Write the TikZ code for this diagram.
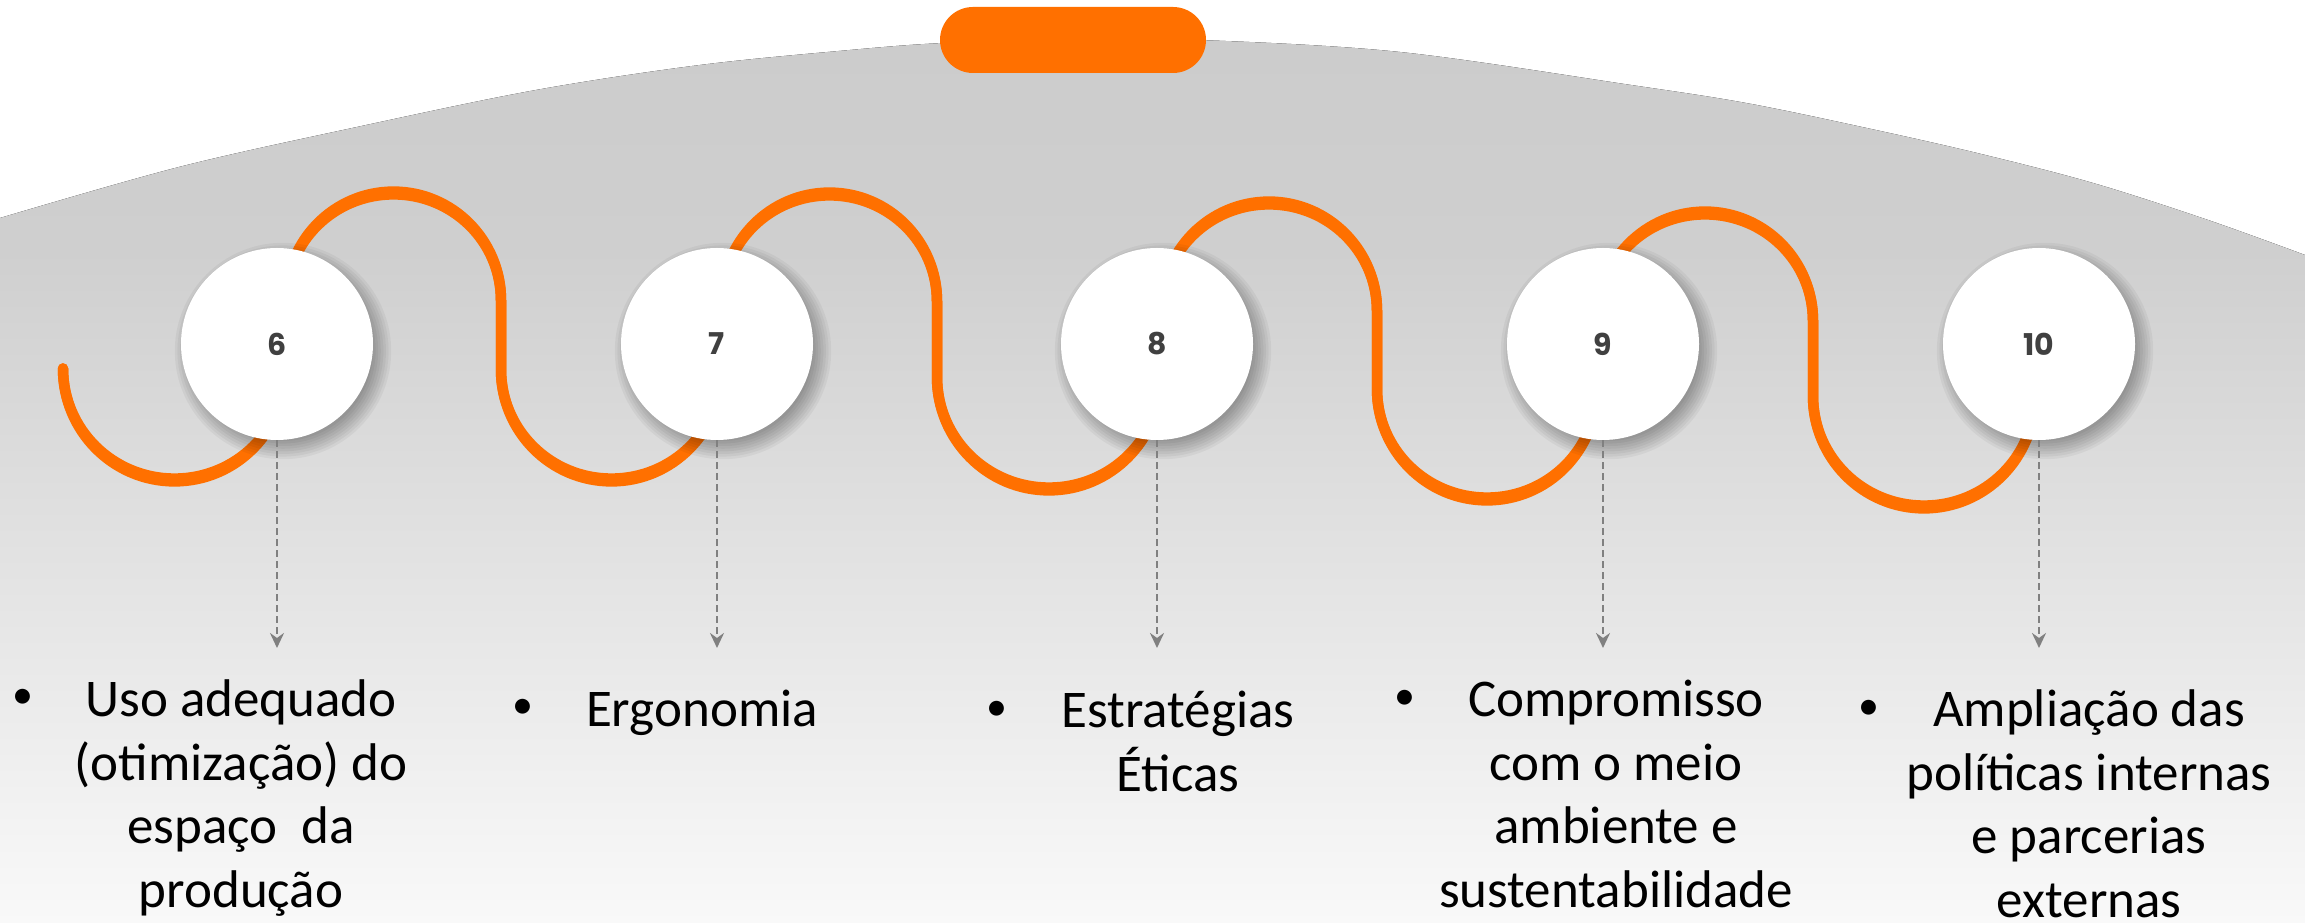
\documentclass[tikz,border=0pt]{standalone}
\usepackage{fontspec}
\setmainfont{Carlito}
\newfontfamily\numfont{Poppins}
\usetikzlibrary{arrows.meta}
\definecolor{orng}{RGB}{255,112,0}
\definecolor{numgray}{RGB}{64,64,64}
\definecolor{arrgray}{RGB}{128,128,128}
\definecolor{gA}{RGB}{249,249,249}
\definecolor{gB}{RGB}{207,207,207}
\definecolor{gC}{RGB}{204,204,204}
\pgfdeclareverticalshading{bgshade}{100bp}{color(0bp)=(gA); color(25bp)=(gA); color(63bp)=(gB); color(75bp)=(gC); color(100bp)=(gC)}
\newcommand\wavepath[1]{%
 (63,554.5) arc[start angle=180,end angle=360,x radius=111.5,y radius={111.5+#1}]
 -- (286,622.5) arc[start angle=180,end angle=0,x radius=107.5,y radius={107.5+#1}]
 -- (501,553.5) arc[start angle=180,end angle=360,x radius=110.5,y radius={110.5+#1}]
 -- (722,621.5) arc[start angle=180,end angle=0,x radius=107.5,y radius={107.5+#1}]
 -- (937,546) arc[start angle=180,end angle=360,x radius=112,y radius={112+#1}]
 -- (1161,612) arc[start angle=180,end angle=0,x radius=108,y radius={108+#1}]
 -- (1377,534) arc[start angle=180,end angle=360,x radius=110,y radius={110+#1}]
 -- (1597,602) arc[start angle=180,end angle=0,x radius=108,y radius={108+#1}]
 -- (1813,527) arc[start angle=180,end angle=360,x radius=111,y radius={111+#1}]}
\newcommand\softshadow[2]{%
 \foreach \s in {0,...,7}{\fill[black,opacity=0.045] ({#1+6},{#2-7}) circle ({90+2.6*\s});}}
\begin{document}
\begin{tikzpicture}[x=1pt,y=1pt,
  wave/.style={draw=orng,line width=10.5pt,line cap=round,line join=round},
  numcirc/.style={circle,fill=white,minimum size=192pt,inner sep=0pt,text=numgray,
    font=\numfont\bfseries\fontsize{30}{36}\selectfont},
  darr/.style={draw=arrgray,line width=2.5pt,dash pattern=on 7pt off 4pt,
    -{Stealth[length=15pt,width=14pt,inset=5pt]}},
  lbl/.style={anchor=base,inner sep=0pt,text=black,font=\fontsize{53}{63.5}\selectfont},
  bul/.style={inner sep=0pt,text=black,font=\fontsize{42}{50}\selectfont},
  pill/.style={rectangle,rounded corners=33pt,fill=orng,minimum width=266pt,minimum height=66pt,inner sep=0pt}]
\useasboundingbox (0,0) rectangle (2305,923);
\fill[white] (0,0) rectangle (2305,923);
% background arc
\fill[shading=bgshade] plot[smooth,tension=0.55] coordinates {(0,705) (179,756) (357,796) (536,833) (700,858) (850,873) (943,880) (1070,884) (1200,883) (1400,871) (1631,838) (1746,820) (1862,796) (1977,770) (2093,740) (2208,703) (2305,668)} -- (2305,0) -- (0,0) -- cycle;
% pill
\node[pill] (pill) at (1073,883) {};
% wave
\draw[wave] \wavepath{-1.4};
\draw[wave] \wavepath{1.4};
% shadows
\softshadow{277}{579}
\softshadow{717}{579}
\softshadow{1157}{579}
\softshadow{1603}{579}
\softshadow{2039}{579}
% circles
\node[numcirc] (c6) at (277,579) {6};
\node[numcirc] (c7) at (717,579) {7};
\node[numcirc] (c8) at (1157,579) {8};
\node[numcirc] (c9) at (1603,579) {9};
\node[numcirc] (c10) at (2039,579) {10};
% arrow ends
\coordinate (a6) at (277,275);
\coordinate (a7) at (717,275);
\coordinate (a8) at (1157,275);
\coordinate (a9) at (1603,275);
\coordinate (a10) at (2039,275);
\draw[darr] (c6.south) -- (a6);
\draw[darr] (c7.south) -- (a7);
\draw[darr] (c8.south) -- (a8);
\draw[darr] (c9.south) -- (a9);
\draw[darr] (c10.south) -- (a10);
% bullets
\node[bul] (b6) at (23,224) {•};
\node[bul] (b7) at (523,214) {•};
\node[bul] (b8) at (997,212) {•};
\node[bul] (b9) at (1405,223) {•};
\node[bul] (b10) at (1869,213) {•};
% labels
\node[lbl] (l6) at (241,206) {\begin{tabular}[t]{@{}c@{}}Uso adequado\\(otimização) do\\espaço\ \ da\\produção\end{tabular}};
\node[lbl] (l7) at (702,196) {\begin{tabular}[t]{@{}c@{}}Ergonomia\end{tabular}};
\node[lbl] (l8) at (1178,195) {\begin{tabular}[t]{@{}c@{}}Estratégias\\Éticas\end{tabular}};
\node[lbl] (l9) at (1616,206) {\begin{tabular}[t]{@{}c@{}}Compromisso\\com o meio\\ambiente e\\sustentabilidade\end{tabular}};
\node[lbl] (l10) at (2089,196) {\begin{tabular}[t]{@{}c@{}}Ampliação das\\políticas internas\\e parcerias\\externas\end{tabular}};
\end{tikzpicture}
\end{document}
